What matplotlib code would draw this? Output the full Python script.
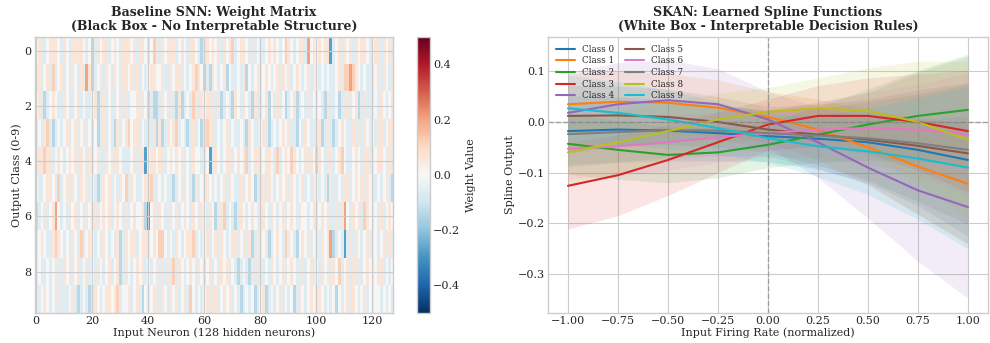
import numpy as np
import matplotlib
matplotlib.use("Agg")
import matplotlib.pyplot as plt

plt.style.use("seaborn-v0_8-whitegrid")
plt.rcParams["font.family"] = ["DejaVu Serif"]

# ---------------- data ----------------
# heatmap levels (one string per output class, 128 neurons)
level_values = {"B": -0.27, "b": -0.14, "c": -0.06, ".": 0.0, "r": 0.06, "R": 0.12, "S": 0.20}
row0 = ".rcc.rrr.cr.crrr" "r.c.bcr.rrc.r.cr" "rr.rcrr.c.Rrcr.r" "rrc.r.crr.cbcr.r" ".rcr.rRc.rr.crc." "rc.r.r.c.Rr.c.rr" "cS.r.r.rrBc.rcr." "rcr.rr.c.rrcr.rc"
row1 = "crc.rcRc.rc.cr.c" "rcSrbc.rcr.cr.cr" "r.rcrc.c.rr..rcc" "r.rrc.c.rRr.bcbr" ".c.rb.cc.crb.c.r" "c.r.c.rcr.rc.r.c" ".rcr.c.c.cc.rcRR" "SRr.c.ccr.rcr.cr"
row2 = ".rcbc.r.ccr.cc.r" "c.cc.rbcrc.cc.rc" "rc..rcr.Rcbbcr.c" "rcbrbc.cRrcr.rrr" "crbc.cbr.cr.cbrc" "c.rb.crc.bc.rbc." "crc.r.cbrcc.bccr" "c.rbcrccr.cr.c.r"
row3 = "c.crRcbc.c.rc.rc" ".rc.c.bcrc.cbrc." "rR.rrc.crcrbrbcr" ".rRc.cbcrc.brRrr" "c.c.rc.cc.cbr.cc" ".rcbc.c.r.rccb.c" "r.ccrrbcrcbc.r.c" "crcrcr.c.crrc.rr"
row4 = "crrRrrc.r.c.r.rc" "r.crc.rccr.rcr.c" "cc.rcrrB.rr.rrc." "r.r.rc.cr..cr.Bc" "r.c.rrc.r.rRc.rr" "c.rr.cRc.r.Rr.c." "rcr.Rr.crrc.rR.c" "c.r.crrcr.rr.crc"
row5 = ".cc.rr.cRc.rcr.c" "r.rc.cbcr.rc.cr." "Rcr.cc.rcRcc.c.c" "cbc.rc.cbrc.cr.c" ".c.rcr.ccrc.r.bc" "crcr.c.r.rcr.c.r" "c.cr.c.cbrcc.crr" "c.r.rcr.cc.c.rcb"
row6 = "Rc.rc.rS.c.cr.rc" ".cr.crc.r.rc.r.c" "rc.r..rbB.rcr.cr" "c.rc.r.cr.cr.cr." "bcrRc.cbcr.c.r.c" "cr.cr.c.rc.r.cr." ".c.rc.r.rccrcrS." "cr.rcRr.c.crc.r."
row7 = "c.r.ccrRr.c.cr.c" "Rc.r.c.cr.c.crbc" "r.rrc.rrc.r.RR.c" ".cr.c.rrRc.c.rc." "rcr.c.rrc.rcrbcr" "c.rbc.r.cRr.cb.r" ".rc.rcr.rSbc.cBc" "rcr.c.rcr.c.rcrc"
row8 = "r.cc.c.crcr.rc.r" "c.rc.cr.c.rc.rbc" "r.c.r.rc.c.rcrcr" "cRcr.c.r.cr.c.rc" ".cr.rc.cbc.cbrcr" "rc.cr.c.rc.r.crc" "c.rc.cr.rcr.Rc.r" "crcrc.r.c.rrc.c."
row9 = "cc.r.c.crccc.rcb" "c.cbcr.c.rr.rRc." ".rc.rcb.r.rrcr.c" "r.rc.rcR.c.c.rcr" "rc.r.rc.cbc.c.bc" ".rbc.c.rc.c.bcr." "c.r.cr.c.c.b.c.r" "cr.c.rc.c..c.c.c"
weight_rows = [row0, row1, row2, row3, row4, row5, row6, row7, row8, row9]

# spline outputs read at these input firing rates
spline_x = [-1.0, -0.75, -0.5, -0.25, 0.0, 0.25, 0.5, 0.75, 1.0]
class_0 = [-0.018, -0.015, -0.017, -0.022, -0.028, -0.033, -0.040, -0.055, -0.075]
class_1 = [0.035, 0.040, 0.038, 0.028, 0.010, -0.015, -0.050, -0.088, -0.122]
class_2 = [-0.043, -0.055, -0.065, -0.060, -0.045, -0.025, -0.005, 0.012, 0.024]
class_3 = [-0.126, -0.105, -0.075, -0.040, -0.005, 0.012, 0.012, 0.000, -0.018]
class_4 = [0.018, 0.035, 0.043, 0.035, 0.005, -0.040, -0.090, -0.135, -0.168]
class_5 = [0.012, 0.013, 0.010, 0.000, -0.015, -0.025, -0.035, -0.047, -0.062]
class_6 = [-0.053, -0.048, -0.040, -0.030, -0.022, -0.015, -0.012, -0.015, -0.024]
class_7 = [-0.024, -0.020, -0.016, -0.017, -0.022, -0.027, -0.032, -0.042, -0.055]
class_8 = [-0.060, -0.040, -0.018, 0.005, 0.020, 0.027, 0.022, 0.000, -0.035]
class_9 = [0.027, 0.018, 0.005, -0.012, -0.032, -0.048, -0.058, -0.072, -0.090]
class_curves = [class_0, class_1, class_2, class_3, class_4, class_5, class_6, class_7, class_8, class_9]

# uncertainty band half-widths at the same x
band_0 = [0.070, 0.065, 0.060, 0.055, 0.050, 0.060, 0.080, 0.110, 0.150]
band_1 = [0.060, 0.060, 0.058, 0.055, 0.050, 0.060, 0.075, 0.095, 0.120]
band_2 = [0.060, 0.058, 0.055, 0.050, 0.045, 0.055, 0.070, 0.090, 0.110]
band_3 = [0.085, 0.080, 0.070, 0.060, 0.050, 0.060, 0.075, 0.095, 0.120]
band_4 = [0.080, 0.082, 0.080, 0.070, 0.055, 0.070, 0.100, 0.140, 0.180]
band_5 = [0.060, 0.058, 0.055, 0.050, 0.045, 0.060, 0.080, 0.110, 0.140]
band_6 = [0.060, 0.058, 0.055, 0.050, 0.045, 0.055, 0.070, 0.090, 0.120]
band_7 = [0.060, 0.058, 0.055, 0.050, 0.045, 0.065, 0.090, 0.140, 0.185]
band_8 = [0.065, 0.062, 0.058, 0.052, 0.048, 0.060, 0.085, 0.120, 0.155]
band_9 = [0.065, 0.062, 0.058, 0.052, 0.048, 0.060, 0.085, 0.120, 0.160]
class_bands = [band_0, band_1, band_2, band_3, band_4, band_5, band_6, band_7, band_8, band_9]
class_names = [f"Class {i}" for i in range(10)]

# ---------------- figure ----------------
fig = plt.figure(figsize=(9.9, 3.43), dpi=100)
ax1 = fig.add_axes([0.035, 0.0875, 0.362, 0.805])
cax = fig.add_axes([0.4215, 0.0875, 0.0131, 0.805])
ax2 = fig.add_axes([0.5535, 0.0875, 0.4444, 0.805])

W = np.array([[level_values.get(ch, 0.0) for ch in (r + "." * 128)[:128]] for r in weight_rows])
im = ax1.imshow(W, cmap="RdBu_r", vmin=-0.5, vmax=0.5, aspect="auto", interpolation="nearest")
ax1.set_xticks(np.arange(0, 128, 20))
ax1.set_yticks(np.arange(0, 10, 2))
ax1.set_xlabel("Input Neuron (128 hidden neurons)", fontsize=8, labelpad=1)
ax1.set_ylabel("Output Class (0-9)", fontsize=8, labelpad=2)
ax1.set_title("Baseline SNN: Weight Matrix\n(Black Box - No Interpretable Structure)",
              fontsize=9, fontweight="bold", pad=5, linespacing=1.05)
ax1.tick_params(labelsize=8, pad=2)
cb = fig.colorbar(im, cax=cax)
cb.set_ticks([-0.4, -0.2, 0.0, 0.2, 0.4])
cb.ax.tick_params(labelsize=8, pad=2)
cb.set_label("Weight Value", fontsize=8, labelpad=4)
cb.outline.set_edgecolor("#cccccc")

tab = ["#1f77b4", "#ff7f0e", "#2ca02c", "#d62728", "#9467bd",
       "#8c564b", "#e377c2", "#7f7f7f", "#bcbd22", "#17becf"]
xs = np.array(spline_x)
for i in range(10):
    y = np.array(class_curves[i])
    b = np.array(class_bands[i])
    ax2.fill_between(xs, y - b, y + b, color=tab[i], alpha=0.12, linewidth=0)
    ax2.plot(xs, y, color=tab[i], linewidth=1.5, label=class_names[i])
ax2.axhline(0, color="gray", linestyle="--", linewidth=1, alpha=0.6)
ax2.axvline(0, color="gray", linestyle="--", linewidth=1, alpha=0.6)
ax2.set_xlim(-1.1, 1.1)
ax2.set_ylim(-0.377, 0.168)
ax2.set_xticks(np.arange(-1.0, 1.01, 0.25))
ax2.set_yticks([-0.3, -0.2, -0.1, 0.0, 0.1])
ax2.tick_params(labelsize=8, pad=2)
ax2.set_xlabel("Input Firing Rate (normalized)", fontsize=8, labelpad=1)
ax2.set_ylabel("Spline Output", fontsize=8, labelpad=2)
ax2.set_title("SKAN: Learned Spline Functions\n(White Box - Interpretable Decision Rules)",
              fontsize=9, fontweight="bold", pad=5, linespacing=1.05)
ax2.legend(loc="upper left", ncol=2, fontsize=6.3, frameon=False, handlelength=2.2,
           columnspacing=1.2, labelspacing=0.3)
for ax in (ax1, ax2):
    for s in ax.spines.values():
        s.set_edgecolor("#cccccc")

fig.savefig("out.png", dpi=100)
